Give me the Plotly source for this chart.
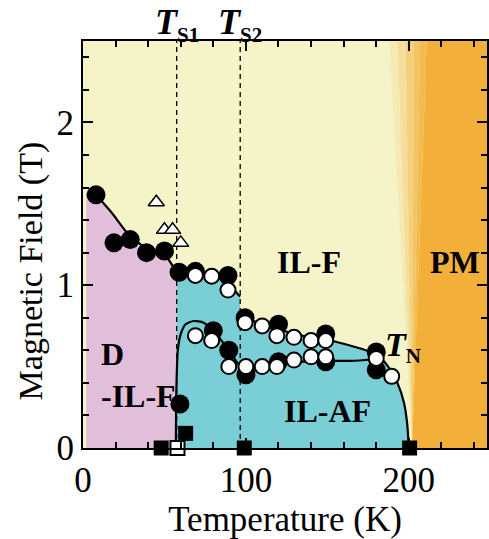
import plotly.graph_objects as go

# Transition temperatures (K)
T_S1 = 57.5
T_S2 = 96.5

# Filled circles
fc_T = [8, 19, 29, 39, 50, 59, 69, 89, 99.5, 120, 149, 180, 80, 89.5, 100, 120, 149, 180, 59.5]
fc_H = [1.555, 1.26, 1.28, 1.20, 1.21, 1.08, 1.085, 1.06, 0.80, 0.76, 0.70, 0.59, 0.72, 0.60, 0.45, 0.53, 0.53, 0.48, 0.27]

# Open circles
oc_T = [69, 79, 89, 99.5, 110, 119, 129.5, 140, 149, 180, 189.5,
        69, 79, 89.5, 100, 110, 119, 129.5, 140, 149]
oc_H = [1.06, 1.055, 0.97, 0.77, 0.75, 0.69, 0.68, 0.66, 0.66, 0.55, 0.44,
        0.69, 0.66, 0.50, 0.50, 0.50, 0.50, 0.54, 0.56, 0.56]

# Open triangles
tr_T = [45, 50, 55, 60]
tr_H = [1.51, 1.34, 1.34, 1.26]

# Filled squares / open square (zero-field transitions)
sq_T = [48, 63, 99, 200.5]
sq_H = [0, 0.09, 0, 0]
osq_T = [58]
osq_H = [0]

# Phase boundary lines
lineA_T = [8, 18, 28, 40, 50, 57.5, 70, 80, 89, 93, 96.5]
lineA_H = [1.555, 1.44, 1.31, 1.22, 1.19, 1.09, 1.065, 1.055, 1.05, 0.97, 0.93]
lineB_T = [99.5, 110, 120, 130, 140, 150, 160, 175, 182, 188, 193, 197, 199, 200]
lineB_H = [0.80, 0.76, 0.73, 0.70, 0.68, 0.665, 0.64, 0.595, 0.56, 0.49, 0.40, 0.28, 0.15, 0.0]
lineC_T = [57, 57.3, 58.2, 60, 63, 68, 74, 80, 89.5, 95, 100, 110, 120, 135, 150, 165, 178]
lineC_H = [0.0, 0.35, 0.6, 0.7, 0.76, 0.78, 0.77, 0.72, 0.60, 0.52, 0.47, 0.49, 0.515, 0.53, 0.535, 0.535, 0.545]

# Region outlines
pink_T = [2, 2, 8, 18, 28, 40, 50, T_S1, T_S1]
pink_H = [0, 1.57, 1.555, 1.44, 1.31, 1.22, 1.19, 1.09, 0]
cyan_T = [T_S1, T_S1, 70, 80, 89, 93, T_S2, T_S2] + lineB_T[1:]
cyan_H = [0, 1.09, 1.065, 1.055, 1.05, 0.97, 0.93, 0.80] + lineB_H[1:]

YELLOW = "rgb(245,243,200)"
PINK = "rgb(225,190,218)"
CYAN = "rgb(122,206,214)"
ORANGE = "rgb(242,176,58)"

# PM crossover: bands fanning out from the zero-field Neel point
pm_top = [188, 193, 198, 203, 207, 211]
pm_bot = 202
pm_cols = ["rgb(246,234,180)", "rgb(245,222,155)", "rgb(244,208,125)",
           "rgb(243,196,100)", "rgb(243,186,78)"]

fig = go.Figure()

# Regions
for i in range(len(pm_cols)):
    fig.add_trace(go.Scatter(
        x=[pm_bot, pm_top[i], pm_top[i + 1], pm_bot], y=[0, 2.5, 2.5, 0],
        fill="toself", fillcolor=pm_cols[i], mode="lines", line=dict(width=0),
        hoverinfo="skip", showlegend=False))
fig.add_trace(go.Scatter(
    x=[pm_bot, pm_top[-1], 260, 260, pm_bot], y=[0, 2.5, 2.5, 0, 0],
    fill="toself", fillcolor=ORANGE, mode="lines", line=dict(width=0),
    hoverinfo="skip", showlegend=False))
fig.add_trace(go.Scatter(x=pink_T, y=pink_H, fill="toself", fillcolor=PINK,
                         mode="lines", line=dict(width=0), hoverinfo="skip", showlegend=False))
fig.add_trace(go.Scatter(x=cyan_T, y=cyan_H, fill="toself", fillcolor=CYAN,
                         mode="lines", line=dict(width=0), hoverinfo="skip", showlegend=False))

# Structural transitions
for ts in (T_S1, T_S2):
    fig.add_trace(go.Scatter(x=[ts, ts], y=[0, 2.5], mode="lines",
                             line=dict(color="black", width=1.3, dash="5px,4px"),
                             hoverinfo="skip", showlegend=False))

# Boundaries
for lx, ly in ((lineA_T, lineA_H), (lineB_T, lineB_H), (lineC_T, lineC_H)):
    fig.add_trace(go.Scatter(x=lx, y=ly, mode="lines",
                             line=dict(color="black", width=2.2, shape="spline", smoothing=0.6),
                             hoverinfo="skip", showlegend=False))

# Markers
fig.add_trace(go.Scatter(x=fc_T, y=fc_H, mode="markers",
                         marker=dict(symbol="circle", size=19, color="black"), showlegend=False))
fig.add_trace(go.Scatter(x=oc_T, y=oc_H, mode="markers",
                         marker=dict(symbol="circle", size=15, color="white",
                                     line=dict(color="black", width=2)), showlegend=False))
fig.add_trace(go.Scatter(x=tr_T, y=tr_H, mode="markers",
                         marker=dict(symbol="triangle-up", size=14, color="white",
                                     line=dict(color="black", width=1.5)), showlegend=False))
fig.add_trace(go.Scatter(x=sq_T, y=sq_H, mode="markers", cliponaxis=False,
                         marker=dict(symbol="square", size=15, color="black"), showlegend=False))
fig.add_trace(go.Scatter(x=osq_T, y=osq_H, mode="markers", cliponaxis=False,
                         marker=dict(symbol="square", size=14, color="white",
                                     line=dict(color="black", width=2)), showlegend=False))

SERIF = "Liberation Serif"
lab = dict(family=SERIF, size=32, color="black")

def region(text, x, y, xanchor="center"):
    fig.add_annotation(x=x, y=y, xref="x", yref="y", text=text, showarrow=False,
                       font=lab, xanchor=xanchor, yanchor="middle")

def t_label(sub):
    return ("<b><i>T</i></b><sub><b><span style='font-size:21px'>%s</span></b></sub>" % sub)

region("<b>IL-F</b>", 139, 1.14)
region("<b>PM</b>", 228.5, 1.14)
region("<b>IL-AF</b>", 150, 0.23)
region("<b>D</b>", 9.8, 0.58, "left")
region("<b>-IL-F</b>", 9.8, 0.32, "left")
fig.add_annotation(x=184, y=0.62, xref="x", yref="y", text=t_label("N"), showarrow=False,
                   font=dict(family=SERIF, size=34, color="black"), xanchor="left",
                   yanchor="middle")

for ts, s in ((T_S1, "S1"), (T_S2, "S2")):
    fig.add_annotation(x=ts, y=1, xref="x", yref="paper", yanchor="bottom",
                       text=t_label(s), showarrow=False,
                       font=dict(family=SERIF, size=36, color="black"), yshift=-8)

axis_common = dict(showline=True, linewidth=2, linecolor="black", mirror="allticks",
                   ticks="inside", ticklen=10, tickwidth=1.5, tickcolor="black",
                   showgrid=False, zeroline=False,
                   tickfont=dict(family=SERIF, size=35, color="black"))

fig.update_xaxes(range=[0, 248], tickvals=[0, 100, 200],
                 minor=dict(dtick=20, ticks="inside", ticklen=6, tickwidth=1.5, tickcolor="black"),
                 title=dict(text="Temperature (K)", font=dict(family=SERIF, size=35, color="black"),
                            standoff=4),
                 **axis_common)
fig.update_yaxes(range=[0, 2.5], tickvals=[0, 1, 2],
                 minor=dict(dtick=0.2, ticks="inside", ticklen=6, tickwidth=1.5, tickcolor="black"),
                 **axis_common)

# Vertical axis title, placed a little below the plot centre
fig.add_annotation(x=-0.13, y=0.435, xref="paper", yref="paper", text="Magnetic Field (T)",
                   textangle=-90, showarrow=False, xanchor="center", yanchor="middle",
                   font=dict(family=SERIF, size=34, color="black"))

fig.update_layout(width=489, height=539, margin=dict(l=83, r=0, t=41, b=91),
                  plot_bgcolor=YELLOW, paper_bgcolor="white")

fig.write_html("out.html")
